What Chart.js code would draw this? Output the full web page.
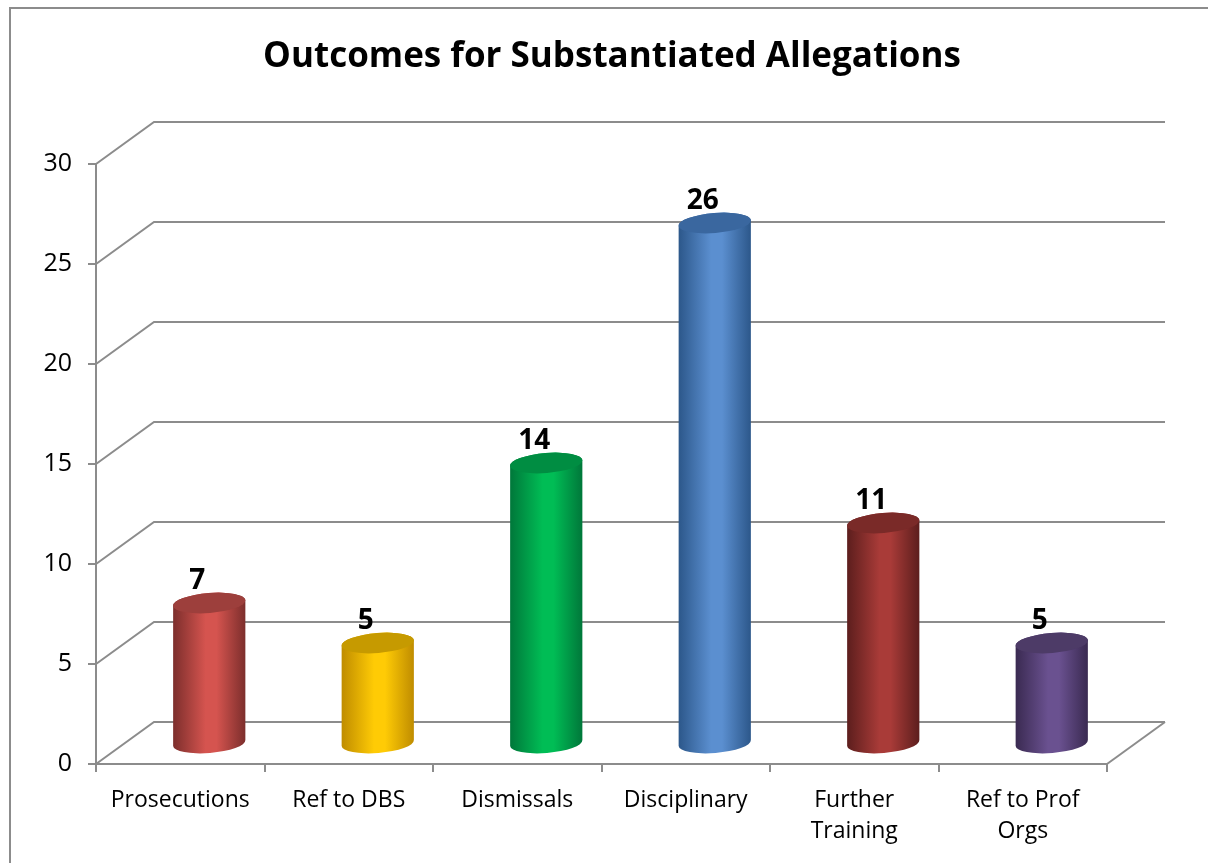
<!DOCTYPE html>
<html lang="en">
<head>
    <meta charset="UTF-8">
    <title>Outcomes for Substantiated Allegations</title>
    <script src="https://cdn.jsdelivr.net/npm/chart.js@4/dist/chart.umd.min.js"></script>
    <style>
        * { margin: 0; padding: 0; box-sizing: border-box; }
        body { background: white; }
        .chart-box { width: 1208px; height: 863px; position: relative; }
    </style>
</head>
<body>
    <div class="chart-box">
        <canvas id="outcomesChart"></canvas>
    </div>

    <script>
        // data
        const categories = [['Prosecutions'], ['Ref to DBS'], ['Dismissals'], ['Disciplinary'], ['Further', 'Training'], ['Ref to Prof', 'Orgs']];
        const outcomeCounts = [7, 5, 14, 26, 11, 5];
        const yMin = 0;
        const yMax = 30;
        const yStep = 5;

        // cylinder shading: light middle, dark edge, top face
        const lightColors = ['#d5544f', '#ffcb05', '#00bd55', '#5b8fd0', '#a93b38', '#6a5190'];
        const darkColors = ['#7c2e2c', '#bf8c00', '#00773a', '#2c578a', '#5c1e1d', '#3a2a51'];
        const topColors = ['#9d3f3c', '#c69a00', '#008d42', '#3a679f', '#7a2a28', '#4d3b67'];

        const FONT = '"Open Sans", sans-serif';
        const DX = 58, DY = 42;
        const lineColor = '#8c8c8c';

        function line(ctx, pts) {
            ctx.beginPath();
            ctx.moveTo(pts[0][0], pts[0][1]);
            for (let i = 1; i < pts.length; i++) ctx.lineTo(pts[i][0], pts[i][1]);
            ctx.stroke();
        }

        const threeD = {
            id: 'threeD',
            beforeDraw(chart) {
                const ctx = chart.ctx;
                ctx.save();
                ctx.strokeStyle = lineColor;
                ctx.lineWidth = 2;
                ctx.strokeRect(10, 8, 1300, 1000);
                ctx.restore();
            },
            beforeDatasetsDraw(chart) {
                const { ctx, chartArea, scales: { x, y } } = chart;
                ctx.save();
                ctx.strokeStyle = lineColor;
                ctx.lineWidth = 2;
                y.ticks.forEach(t => {
                    const py = y.getPixelForValue(t.value);
                    line(ctx, [[chartArea.left, py], [chartArea.left + DX, py - DY], [chartArea.right + DX, py - DY]]);
                });
                const y0 = y.getPixelForValue(0);
                line(ctx, [[chartArea.right, y0], [chartArea.right + DX, y0 - DY]]);
                ctx.restore();
            },
            afterDatasetsDraw(chart) {
                const { ctx, scales: { y } } = chart;
                const meta = chart.getDatasetMeta(0);
                const rot = -0.08;
                ctx.save();
                meta.data.forEach((bar, i) => {
                    const cx = bar.x + DX / 2;
                    const rx = bar.width / 2;
                    const ry = 10;
                    const yBot = y.getPixelForValue(0) - DY / 2;
                    const yTop = y.getPixelForValue(outcomeCounts[i]) - DY / 2;
                    const g = ctx.createLinearGradient(cx - rx, 0, cx + rx, 0);
                    g.addColorStop(0, darkColors[i]);
                    g.addColorStop(0.45, lightColors[i]);
                    g.addColorStop(0.6, lightColors[i]);
                    g.addColorStop(1, darkColors[i]);
                    ctx.fillStyle = g;
                    ctx.beginPath();
                    ctx.ellipse(cx, yBot, rx, ry, rot, 0, Math.PI);
                    ctx.ellipse(cx, yTop, rx, ry, rot, Math.PI, Math.PI * 2);
                    ctx.closePath();
                    ctx.fill();
                    ctx.fillStyle = topColors[i];
                    ctx.beginPath();
                    ctx.ellipse(cx, yTop, rx, ry, rot, 0, Math.PI * 2);
                    ctx.fill();

                    // value label
                    ctx.fillStyle = '#000';
                    ctx.font = 'bold 28px ' + FONT;
                    ctx.textAlign = 'center';
                    ctx.textBaseline = 'middle';
                    ctx.fillText(String(outcomeCounts[i]), bar.x + 17, yTop - 22);
                });
                ctx.restore();
            },
            afterDraw(chart) {
                const ctx = chart.ctx;
                ctx.save();
                ctx.fillStyle = '#000';
                ctx.font = 'bold 35px ' + FONT;
                ctx.textAlign = 'center';
                ctx.textBaseline = 'middle';
                ctx.fillText('Outcomes for Substantiated Allegations', 612, 57);
                ctx.restore();
            }
        };

        new Chart(document.getElementById('outcomesChart'), {
            type: 'bar',
            data: {
                labels: categories,
                datasets: [{
                    data: outcomeCounts,
                    backgroundColor: 'rgba(0,0,0,0)',
                    barPercentage: 0.43,
                    categoryPercentage: 1
                }]
            },
            options: {
                responsive: true,
                maintainAspectRatio: false,
                animation: false,
                layout: { padding: { top: 164, right: 101, left: 0, bottom: 0 } },
                plugins: {
                    legend: { display: false },
                    tooltip: { enabled: false }
                },
                scales: {
                    x: {
                        afterFit: s => { s.height = 99; },
                        grid: { display: true, drawOnChartArea: false, drawTicks: true, tickLength: 8, color: lineColor, lineWidth: 2 },
                        border: { display: true, color: lineColor, width: 2 },
                        ticks: { color: '#000', padding: 13, maxRotation: 0, font: { family: FONT, size: 23, lineHeight: 1.36 } }
                    },
                    y: {
                        min: yMin,
                        max: yMax,
                        afterFit: s => { s.width = 96; },
                        grid: { display: true, drawOnChartArea: false, drawTicks: true, tickLength: 8, color: lineColor, lineWidth: 2 },
                        border: { display: true, color: lineColor, width: 2 },
                        ticks: { stepSize: yStep, color: '#000', padding: 16, font: { family: FONT, size: 25 } }
                    }
                }
            },
            plugins: [threeD]
        });
    </script>
</body>
</html>
